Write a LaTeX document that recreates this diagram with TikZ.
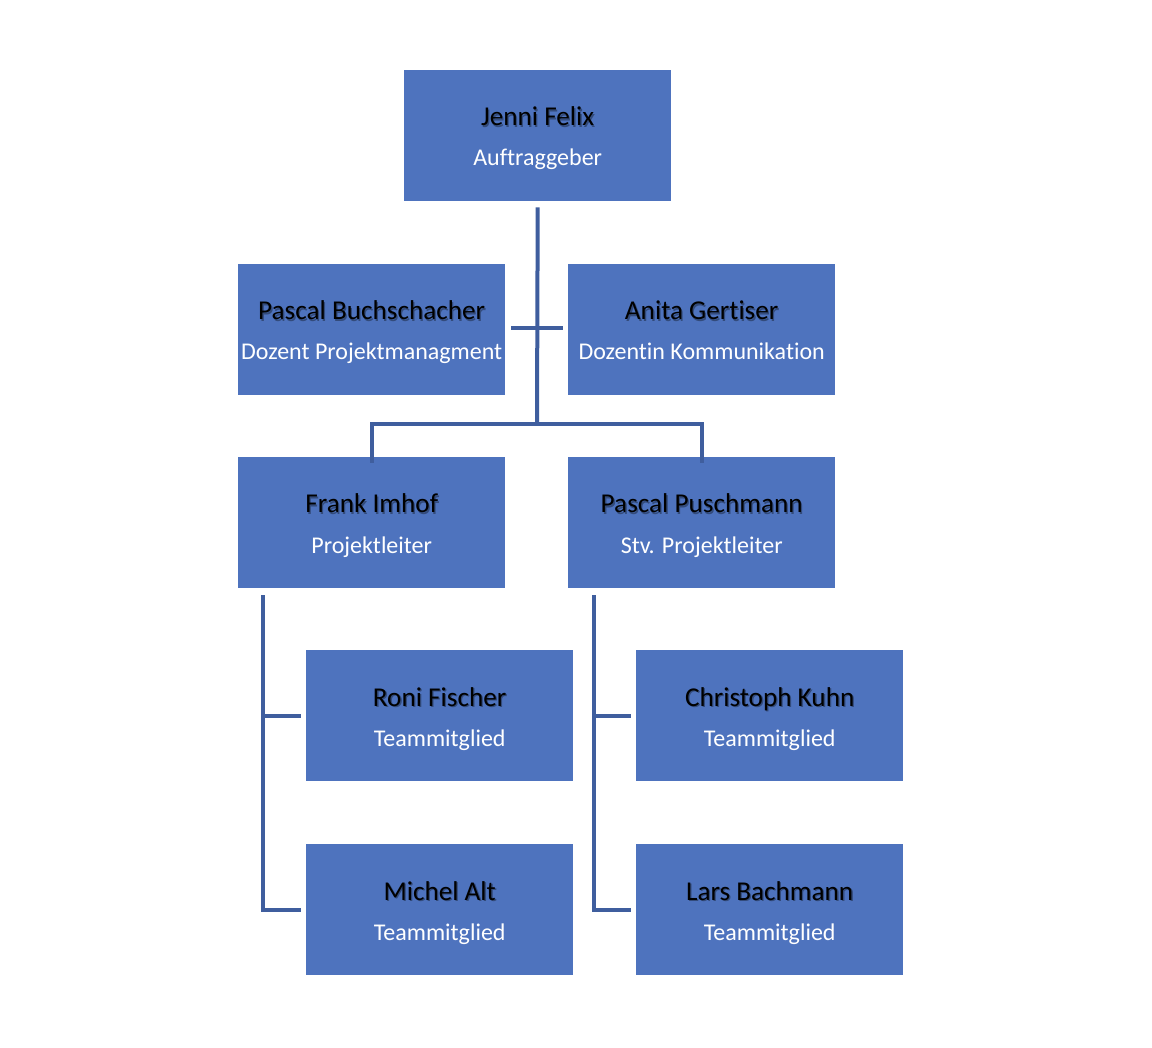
\documentclass[tikz,border=0pt]{standalone}
\usepackage{fontspec}
\setmainfont[Ligatures=NoCommon]{Carlito}
\begin{document}
\begin{tikzpicture}[x=1pt,y=-1pt,
  box/.style={fill=boxblue,draw=none,minimum width=267pt,minimum height=131pt,inner sep=0pt,anchor=north west},
  conn/.style={draw=lineblue,line width=4pt},
  nm/.style={font=\fontsize{27.2}{32}\selectfont,text=black,anchor=base,inner sep=0pt},
  nmsh/.style={font=\fontsize{27.2}{32}\selectfont,text=black!35!boxblue,anchor=base,inner sep=0pt},
  sub/.style={font=\fontsize{24}{28}\selectfont,text=white,anchor=base,inner sep=0pt}]
\definecolor{boxblue}{HTML}{4E73BE}
\definecolor{lineblue}{HTML}{3F5E9E}
\useasboundingbox (0,0) rectangle (1152,1048);
\newcommand{\person}[5]{%
  \node[box] (#1) at (#2,#3) {};
  \node[nmsh] at ([xshift=1.3pt,yshift=-1.3pt]#1.north) [yshift=-56pt] {#4};
  \node[nm] (#1n) at (#1.north) [yshift=-56pt] {#4};
  \node[sub] (#1s) at (#1.north) [yshift=-96pt] {#5};
}
\person{jf}{404}{70}{Jenni Felix}{Auftraggeber}
\person{pb}{238}{264}{Pascal Buchschacher}{Dozent Projektmanagment}
\person{ag}{568}{264}{Anita Gertiser}{Dozentin Kommunikation}
\person{fi}{238}{457}{Frank Imhof}{Projektleiter}
\person{pp}{568}{457}{Pascal Puschmann}{Stv. Projektleiter}
\person{rf}{306}{650}{Roni Fischer}{Teammitglied}
\person{ck}{636}{650}{Christoph Kuhn}{Teammitglied}
\person{ma}{306}{844}{Michel Alt}{Teammitglied}
\person{lb}{636}{844}{Lars Bachmann}{Teammitglied}
% connectors
\coordinate (hub) at (537,424);
\coordinate (assist) at (537,328);
\draw[conn] ([yshift=-6pt]jf.south) -- (hub);
\draw[conn] ([xshift=6pt]pb.east |- assist) -- ([xshift=-5pt]ag.west |- assist);
\draw[conn] ([yshift=-6pt]fi.north) -- (fi.north |- hub) -- (pp.north |- hub) -- ([yshift=-6pt]pp.north);
\coordinate (lx) at (263,595);
\coordinate (rx) at (594,595);
\draw[conn] (lx) -- (lx |- ma.west) -- ([xshift=-5pt]ma.west);
\draw[conn] (lx |- rf.west) -- ([xshift=-5pt]rf.west);
\draw[conn] (rx) -- (rx |- lb.west) -- ([xshift=-5pt]lb.west);
\draw[conn] (rx |- ck.west) -- ([xshift=-5pt]ck.west);
\end{tikzpicture}
\end{document}
